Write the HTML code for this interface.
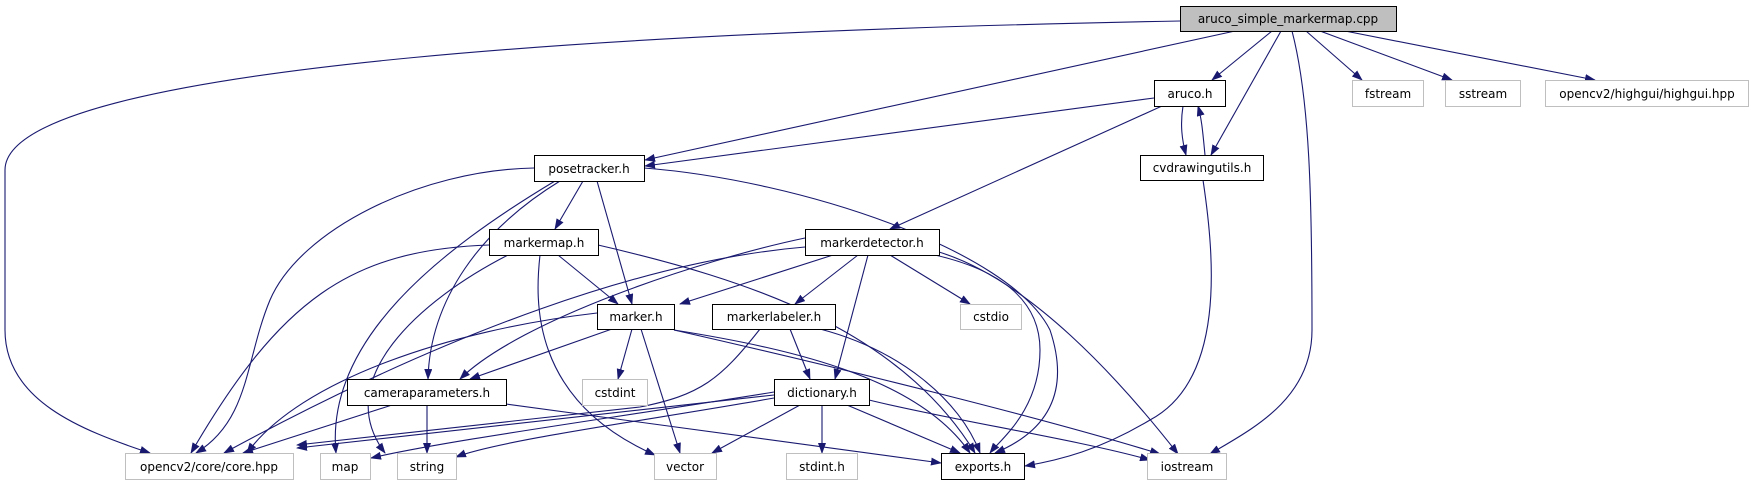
<!DOCTYPE html>
<html><head><meta charset="utf-8"><style>
html,body{margin:0;padding:0;background:#fff;width:1754px;height:485px;overflow:hidden}
text{font-family:"DejaVu Sans","Liberation Sans",sans-serif;font-size:12px;fill:#000}
</style></head><body>
<svg width="1754" height="485" viewBox="0 0 1754 485" xmlns="http://www.w3.org/2000/svg">
<defs>
<marker id="a" markerWidth="11" markerHeight="8" refX="10" refY="4" orient="auto" markerUnits="userSpaceOnUse">
<path d="M0,0 L11,4 L0,8 Z" fill="#191970"/></marker>
</defs>
<g fill="none" stroke="#191970" stroke-width="1.1" marker-end="url(#a)">
<path d="M1180,21 C700,30 5,60 5,170 L5,330 C5,400 80,430 150,453"/>
<path d="M1235,31 L645,160"/>
<path d="M1272,31 L1212,80"/>
<path d="M1281,31 L1211,155"/>
<path d="M1292,31 C1310,100 1312,200 1312,330 C1312,400 1250,430 1210,454"/>
<path d="M1306,31 L1362,80"/>
<path d="M1320,31 L1452,80"/>
<path d="M1345,31 L1595,80"/>
<path d="M1154,98 L645,166"/>
<path d="M1183,106 C1180,125 1182,140 1186,155"/>
<path d="M1205,155 C1203,135 1202,120 1198,106"/>
<path d="M1162,106 L890,229"/>
<path d="M1203,180 C1215,260 1225,380 1150,420 C1100,450 1060,460 1025,466"/>
<path d="M534,168 C420,170 300,230 270,300 C245,360 250,420 196,453"/>
<path d="M583,181 L555,229"/>
<path d="M597,181 L632,304"/>
<path d="M560,181 C480,230 430,300 428,379"/>
<path d="M555,181 C440,250 325,340 336,453"/>
<path d="M644,168 C800,180 1010,250 1050,330 C1070,390 1050,430 995,453"/>
<path d="M489,245 C350,250 280,300 191,453"/>
<path d="M508,255 C420,300 330,380 385,453"/>
<path d="M540,255 C535,300 530,400 655,455"/>
<path d="M558,255 L618,304"/>
<path d="M598,245 C750,280 900,330 975,453"/>
<path d="M805,247 C650,260 450,330 224,453"/>
<path d="M805,238 C700,260 520,320 460,379"/>
<path d="M833,255 L680,304"/>
<path d="M858,255 L795,304"/>
<path d="M868,255 L835,379"/>
<path d="M890,255 L970,304"/>
<path d="M935,255 C1000,270 1040,300 1040,350 C1040,410 1000,440 990,453"/>
<path d="M939,252 C1030,280 1120,380 1178,454"/>
<path d="M597,313 C450,330 300,380 247,453"/>
<path d="M612,329 L470,379"/>
<path d="M632,329 L618,379"/>
<path d="M641,329 L680,453"/>
<path d="M674,330 C800,350 920,380 970,453"/>
<path d="M674,330 C850,370 1050,420 1160,454"/>
<path d="M760,329 C720,380 700,395 640,407 L297,445"/>
<path d="M790,329 L810,379"/>
<path d="M820,329 C900,350 960,400 980,453"/>
<path d="M392,405 L243,453"/>
<path d="M427,405 L427,453"/>
<path d="M506,404 C700,430 850,450 941,463"/>
<path d="M774,395 L297,448"/>
<path d="M774,392 C600,420 450,440 371,458"/>
<path d="M774,398 C650,420 500,440 456,457"/>
<path d="M800,405 L712,453"/>
<path d="M822,405 L822,453"/>
<path d="M847,405 L960,453"/>
<path d="M869,400 C950,420 1080,440 1150,460"/>
</g>
<g stroke-width="1">
<rect x="1180.5" y="6.5" width="216" height="25" fill="#bfbfbf" stroke="#000"/>
<rect x="1154.5" y="80.5" width="71" height="26" fill="#fff" stroke="#000"/>
<rect x="1140.5" y="155.5" width="123" height="25" fill="#fff" stroke="#000"/>
<rect x="1352.5" y="80.5" width="71" height="26" fill="#fff" stroke="#bfbfbf"/>
<rect x="1445.5" y="80.5" width="75" height="26" fill="#fff" stroke="#bfbfbf"/>
<rect x="1545.5" y="80.5" width="203" height="26" fill="#fff" stroke="#bfbfbf"/>
<rect x="534.5" y="155.5" width="110" height="26" fill="#fff" stroke="#000"/>
<rect x="489.5" y="229.5" width="109" height="26" fill="#fff" stroke="#000"/>
<rect x="805.5" y="229.5" width="134" height="26" fill="#fff" stroke="#000"/>
<rect x="597.5" y="304.5" width="77" height="25" fill="#fff" stroke="#000"/>
<rect x="712.5" y="304.5" width="123" height="25" fill="#fff" stroke="#000"/>
<rect x="960.5" y="304.5" width="61" height="25" fill="#fff" stroke="#bfbfbf"/>
<rect x="347.5" y="379.5" width="159" height="26" fill="#fff" stroke="#000"/>
<rect x="582.5" y="379.5" width="65" height="26" fill="#fff" stroke="#bfbfbf"/>
<rect x="774.5" y="379.5" width="95" height="26" fill="#fff" stroke="#000"/>
<rect x="125.5" y="453.5" width="168" height="26" fill="#fff" stroke="#bfbfbf"/>
<rect x="320.5" y="453.5" width="50" height="26" fill="#fff" stroke="#bfbfbf"/>
<rect x="397.5" y="453.5" width="59" height="26" fill="#fff" stroke="#bfbfbf"/>
<rect x="654.5" y="453.5" width="62" height="26" fill="#fff" stroke="#bfbfbf"/>
<rect x="786.5" y="453.5" width="71" height="26" fill="#fff" stroke="#bfbfbf"/>
<rect x="941.5" y="453.5" width="83" height="26" fill="#fff" stroke="#000"/>
<rect x="1147.5" y="453.5" width="79" height="26" fill="#fff" stroke="#bfbfbf"/>
</g>
<g text-anchor="middle">
<text x="1288" y="23">aruco_simple_markermap.cpp</text>
<text x="1190" y="98">aruco.h</text>
<text x="1202" y="172">cvdrawingutils.h</text>
<text x="1388" y="98">fstream</text>
<text x="1483" y="98">sstream</text>
<text x="1647" y="98">opencv2/highgui/highgui.hpp</text>
<text x="589" y="173">posetracker.h</text>
<text x="544" y="247">markermap.h</text>
<text x="872" y="247">markerdetector.h</text>
<text x="636" y="321">marker.h</text>
<text x="774" y="321">markerlabeler.h</text>
<text x="991" y="321">cstdio</text>
<text x="427" y="397">cameraparameters.h</text>
<text x="615" y="397">cstdint</text>
<text x="822" y="397">dictionary.h</text>
<text x="209" y="471">opencv2/core/core.hpp</text>
<text x="345" y="471">map</text>
<text x="427" y="471">string</text>
<text x="685" y="471">vector</text>
<text x="822" y="471">stdint.h</text>
<text x="983" y="471">exports.h</text>
<text x="1187" y="471">iostream</text>
</g>
</svg>
</body></html>
